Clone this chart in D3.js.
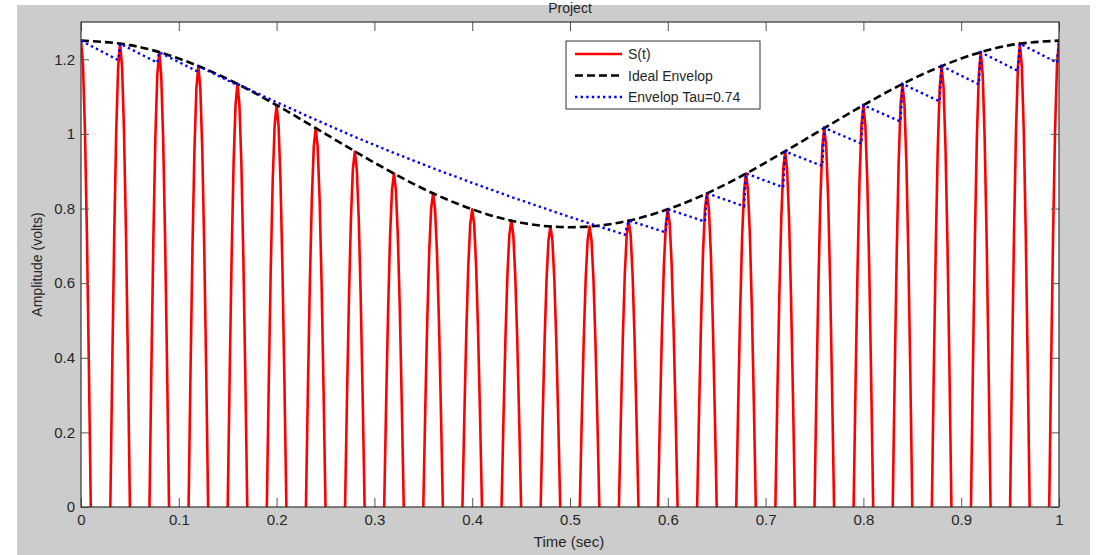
<!DOCTYPE html>
<html>
<head>
<meta charset="utf-8">
<script src="https://cdn.jsdelivr.net/npm/d3@7/dist/d3.min.js"></script>
<style>
  html, body { margin: 0; padding: 0; background: #ffffff; }
  svg { display: block; font-family: "Liberation Sans", Arial, sans-serif; }
</style>
</head>
<body>
<svg id="chart" width="1101" height="555"></svg>
<script>
// ---------- data ----------
const xTicks = [0, 0.1, 0.2, 0.3, 0.4, 0.5, 0.6, 0.7, 0.8, 0.9, 1];
const xTickLabels = ["0", "0.1", "0.2", "0.3", "0.4", "0.5", "0.6", "0.7", "0.8", "0.9", "1"];
const yTicks = [0, 0.2, 0.4, 0.6, 0.8, 1, 1.2];
const yTickLabels = ["0", "0.2", "0.4", "0.6", "0.8", "1", "1.2"];

// S(t): pulse peak times and peak amplitudes
const peakT = [0, 0.04, 0.08, 0.12, 0.16, 0.20, 0.24, 0.28, 0.32, 0.36, 0.40, 0.44, 0.48,
               0.52, 0.56, 0.60, 0.64, 0.68, 0.72, 0.76, 0.80, 0.84, 0.88, 0.92, 0.96, 1.00];
const peakA = [1.250, 1.242, 1.219, 1.182, 1.134, 1.077, 1.016, 0.953, 0.894, 0.841, 0.798, 0.768, 0.752,
               0.752, 0.768, 0.798, 0.841, 0.894, 0.953, 1.016, 1.077, 1.134, 1.182, 1.219, 1.242, 1.250];
// shape of one pulse: time offset from the peak and height relative to the peak
const pulseOffset = [-0.012, -0.010, -0.008, -0.006, -0.004, -0.002, 0, 0.002, 0.004, 0.006, 0.008, 0.010, 0.012];
const pulseShape  = [-0.31, 0, 0.31, 0.59, 0.81, 0.95, 1, 0.95, 0.81, 0.59, 0.31, 0, -0.31];

// Ideal envelope
const envT = [0, 0.05, 0.10, 0.15, 0.20, 0.25, 0.30, 0.35, 0.40, 0.45, 0.50,
              0.55, 0.60, 0.65, 0.70, 0.75, 0.80, 0.85, 0.90, 0.95, 1.00];
const envV = [1.250, 1.238, 1.202, 1.147, 1.077, 1.000, 0.923, 0.853, 0.798, 0.762, 0.750,
              0.762, 0.798, 0.853, 0.923, 1.000, 1.077, 1.147, 1.202, 1.238, 1.250];

// Envelope detector (Tau = 0.74)
const detT = [0, 0.038, 0.040, 0.078, 0.080, 0.118, 0.120, 0.158, 0.160,
              0.20, 0.24, 0.28, 0.32, 0.36, 0.40, 0.44, 0.48, 0.52, 0.556, 0.560,
              0.598, 0.600, 0.638, 0.640, 0.678, 0.680, 0.718, 0.720, 0.758, 0.760,
              0.798, 0.800, 0.838, 0.840, 0.878, 0.880, 0.918, 0.920, 0.958, 0.960,
              0.998, 1.000];
const detV = [1.250, 1.198, 1.242, 1.191, 1.219, 1.169, 1.182, 1.133, 1.134,
              1.085, 1.038, 0.992, 0.949, 0.908, 0.869, 0.831, 0.795, 0.760, 0.730, 0.768,
              0.736, 0.798, 0.765, 0.841, 0.806, 0.894, 0.857, 0.953, 0.914, 1.016,
              0.974, 1.077, 1.033, 1.134, 1.087, 1.182, 1.133, 1.219, 1.169, 1.242,
              1.191, 1.250];

const legendLabels = ["S(t)", "Ideal Envelop", "Envelop Tau=0.74"];

// ---------- layout ----------
const svg = d3.select("#chart");
const plot = { left: 81, right: 1059, top: 22, bottom: 507 };

svg.append("rect").attr("x", 17).attr("y", 5).attr("width", 1073).attr("height", 550).attr("fill", "#cccccc");

const x = d3.scaleLinear().domain([0, 1]).range([plot.left, plot.right]);
const y = d3.scaleLinear().domain([0, 1.3]).range([plot.bottom, plot.top]);

svg.append("rect").attr("x", plot.left).attr("y", plot.top)
  .attr("width", plot.right - plot.left).attr("height", plot.bottom - plot.top)
  .attr("fill", "#ffffff");

svg.append("clipPath").attr("id", "clip").append("rect")
  .attr("x", plot.left).attr("y", plot.top)
  .attr("width", plot.right - plot.left).attr("height", plot.bottom - plot.top);

const g = svg.append("g").attr("clip-path", "url(#clip)");

// S(t) points
const sPts = [];
peakT.forEach((t, i) => {
  pulseOffset.forEach((o, j) => sPts.push([t + o, peakA[i] * pulseShape[j]]));
});
const line = d3.line().x(d => x(d[0])).y(d => y(d[1]));

g.append("path").datum(sPts).attr("d", line)
  .attr("fill", "none").attr("stroke", "#ff0000").attr("stroke-width", 2.6)
  .attr("stroke-linejoin", "round");

const envPts = envT.map((t, i) => [t, envV[i]]);
g.append("path").datum(envPts).attr("d", d3.line().x(d => x(d[0])).y(d => y(d[1])).curve(d3.curveNatural))
  .attr("fill", "none").attr("stroke", "#000000").attr("stroke-width", 2.6)
  .attr("stroke-dasharray", "8,4");

const detPts = detT.map((t, i) => [t, detV[i]]);
g.append("path").datum(detPts).attr("d", line)
  .attr("fill", "none").attr("stroke", "#0000ff").attr("stroke-width", 2.4)
  .attr("stroke-dasharray", "2.4,3.2");

// ---------- axes ----------
const axisColor = "#333333";
function styleAxis(sel) {
  sel.select(".domain").remove();
  sel.selectAll(".tick line").attr("stroke", "#555555");
  sel.selectAll(".tick text").attr("fill", "#262626").style("font-size", "15px")
    .style("font-family", "'Liberation Sans', Arial, sans-serif");
}

svg.append("g").attr("transform", `translate(0,${plot.bottom})`)
  .call(d3.axisBottom(x).tickValues(xTicks).tickFormat((d, i) => xTickLabels[i])
    .tickSizeInner(-9).tickSizeOuter(0).tickPadding(7))
  .call(styleAxis);
svg.append("g").attr("transform", `translate(0,${plot.top})`)
  .call(d3.axisTop(x).tickValues(xTicks).tickFormat("")
    .tickSizeInner(-9).tickSizeOuter(0))
  .call(styleAxis);
svg.append("g").attr("transform", `translate(${plot.left},0)`)
  .call(d3.axisLeft(y).tickValues(yTicks).tickFormat((d, i) => yTickLabels[i])
    .tickSizeInner(-8).tickSizeOuter(0).tickPadding(6))
  .call(styleAxis);
svg.append("g").attr("transform", `translate(${plot.right},0)`)
  .call(d3.axisRight(y).tickValues(yTicks).tickFormat("")
    .tickSizeInner(-8).tickSizeOuter(0))
  .call(styleAxis);

svg.append("rect").attr("x", plot.left).attr("y", plot.top)
  .attr("width", plot.right - plot.left).attr("height", plot.bottom - plot.top)
  .attr("fill", "none").attr("stroke", axisColor).attr("stroke-width", 1.2);

// labels
svg.append("text").attr("x", (plot.left + plot.right) / 2).attr("y", 13)
  .attr("text-anchor", "middle").attr("fill", "#262626").style("font-size", "14px").text("Project");
svg.append("text").attr("x", (plot.left + plot.right) / 2 - 1).attr("y", 547)
  .attr("text-anchor", "middle").attr("fill", "#262626").style("font-size", "15px").text("Time (sec)");
svg.append("text").attr("transform", `translate(42,${(plot.top + plot.bottom) / 2}) rotate(-90)`)
  .attr("text-anchor", "middle").attr("fill", "#262626").style("font-size", "14px").text("Amplitude (volts)");

// ---------- legend ----------
const lg = svg.append("g");
lg.append("rect").attr("x", 566).attr("y", 41).attr("width", 194).attr("height", 68)
  .attr("fill", "#ffffff").attr("stroke", "#333333").attr("stroke-width", 1);
const legStyles = [
  { color: "#ff0000", dash: null, w: 2.6 },
  { color: "#000000", dash: "8,4", w: 2.6 },
  { color: "#0000ff", dash: "2.4,3.2", w: 2.4 }
];
const legY = [54, 75.5, 97];
legendLabels.forEach((lab, i) => {
  const s = lg.append("line").attr("x1", 575).attr("x2", 622).attr("y1", legY[i]).attr("y2", legY[i])
    .attr("stroke", legStyles[i].color).attr("stroke-width", legStyles[i].w);
  if (legStyles[i].dash) s.attr("stroke-dasharray", legStyles[i].dash);
  lg.append("text").attr("x", 628).attr("y", legY[i] + 5).attr("fill", "#262626")
    .style("font-size", "14px").text(lab);
});
</script>
</body>
</html>
